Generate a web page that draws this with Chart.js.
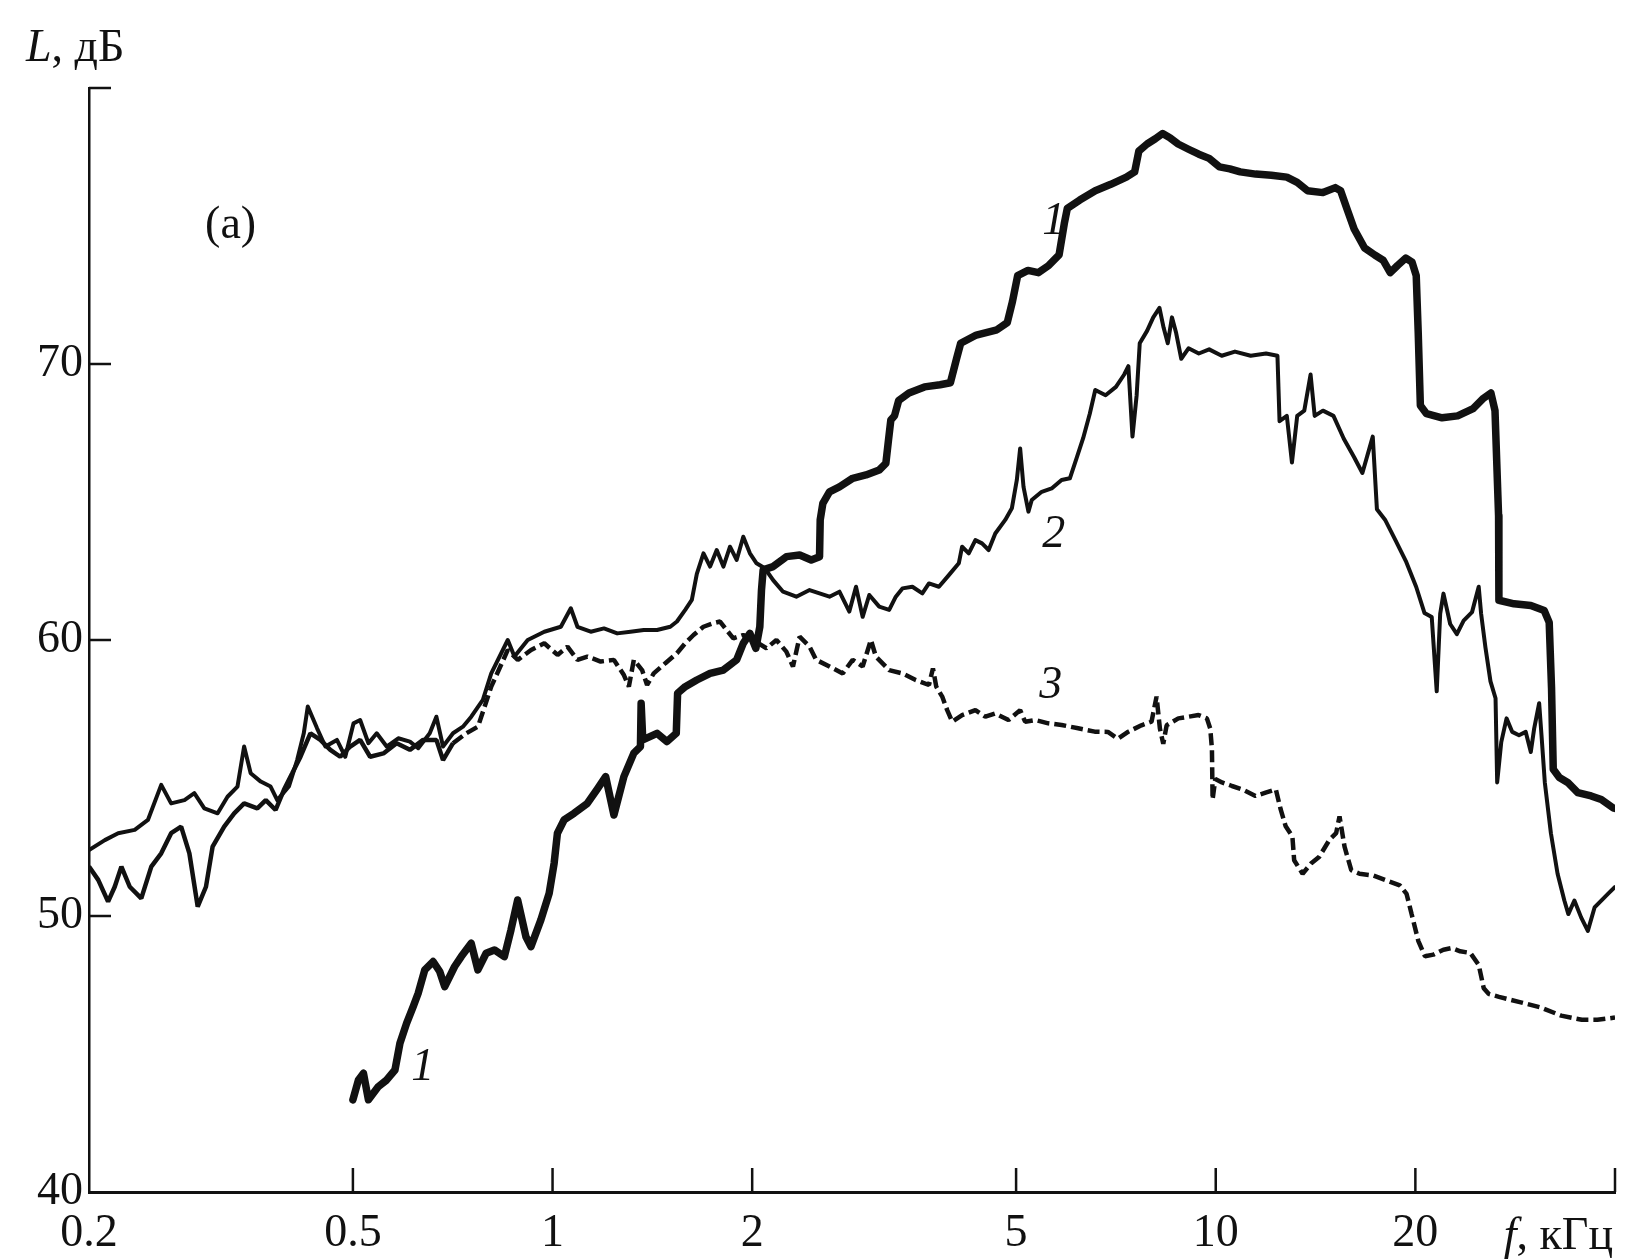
<!DOCTYPE html>
<html>
<head>
<meta charset="utf-8">
<script src="https://cdn.jsdelivr.net/npm/chart.js@4.4.1/dist/chart.umd.min.js"></script>
<style>
  html, body { margin: 0; padding: 0; background: #ffffff; }
  #wrap { width: 1629px; height: 1259px; position: relative; }
</style>
</head>
<body>
<div id="wrap"><canvas id="c" width="1629" height="1259"></canvas></div>
<script>
// Axis ticks
const xTicks = [0.2, 0.5, 1, 2, 5, 10, 20, 40];
const xTickLabels = ['0.2', '0.5', '1', '2', '5', '10', '20', ''];
const yTicks = [40, 50, 60, 70, 80];
const yTickLabels = ['40', '50', '60', '70', ''];

// Curve 1: frequency, kHz / level, dB
const freq1 = [0.500,0.5097,0.5187,0.5277,0.5462,0.5622,0.5786,0.5887,0.6024,0.6164,0.6272,0.6418,0.6605,0.6759,0.6877,0.7118,0.7284,0.7540,0.7716,0.7941,0.8173,0.8460,0.8657,0.8859,0.9117,0.9277,0.9603,0.9883,1.0055,1.0171,1.0408,1.0774,1.1282,1.168,1.2025,1.2375,1.2811,1.3261,1.3569,1.3601,1.3679,1.4374,1.4879,1.5366,1.5437,1.5851,1.6503,1.7280,1.8095,1.8948,1.9389,1.9841,2.0256,2.0538,2.0657,2.0776,2.1508,2.2521,2.3583,2.4553,2.5269,2.5328,2.5562,2.6157,2.7077,2.8352,2.9689,3.1087,3.1812,3.2107,3.2366,3.278,3.326,3.447,3.638,3.840,3.980,4.066,4.125,4.355,4.678,4.849,4.937,5.027,5.211,5.402,5.600,5.805,5.910,5.974,6.236,6.582,6.946,7.332,7.546,7.656,7.879,8.108,8.316,8.528,8.777,9.098,9.430,9.774,10.13,10.50,10.89,11.49,12.13,12.80,13.27,13.75,14.51,15.15,15.43,15.76,16.17,16.76,17.37,17.88,18.33,18.80,19.35,19.77,20.06,20.20,20.35,20.79,21.94,23.16,24.44,25.34,26.00,26.37,26.70,26.73,28.17,29.86,31.28,31.83,32.09,32.28,32.97,33.94,35.15,36.82,38.14,39.72,40.0];
const level1 = [43.34,44.06,44.30,43.34,43.82,44.06,44.42,45.39,46.11,46.72,47.20,48.05,48.35,47.99,47.44,48.17,48.53,49.01,48.05,48.65,48.77,48.53,49.50,50.58,49.25,48.89,49.86,50.82,51.91,53.00,53.48,53.72,54.08,54.60,55.05,53.66,55.05,55.90,56.14,57.71,56.38,56.62,56.32,56.62,58.07,58.31,58.55,58.79,58.91,59.28,59.88,60.24,59.70,60.48,61.81,62.54,62.66,63.02,63.08,62.90,63.02,64.35,64.95,65.37,65.55,65.86,65.98,66.16,66.40,67.25,67.97,68.12,68.68,68.95,69.17,69.25,69.32,70.19,70.75,71.05,71.24,71.50,72.26,73.20,73.39,73.31,73.57,73.95,75.08,75.64,75.94,76.28,76.51,76.77,76.96,77.71,77.97,78.16,78.35,78.20,77.97,77.78,77.60,77.45,77.14,77.07,76.96,76.88,76.84,76.77,76.58,76.28,76.21,76.39,76.28,75.64,74.89,74.21,73.95,73.76,73.31,73.57,73.84,73.69,73.20,71.13,68.50,68.20,68.05,68.12,68.38,68.76,68.95,68.31,64.50,61.44,61.31,61.25,61.07,60.64,58.26,55.32,55.02,54.84,54.47,54.35,54.22,53.92,53.90];

// Curve 2
const freq2 = [0.200,0.2113,0.2213,0.2344,0.2454,0.2570,0.2660,0.2786,0.2883,0.2985,0.3126,0.3235,0.3349,0.3427,0.3506,0.3631,0.3757,0.3845,0.4003,0.4120,0.4216,0.4275,0.4415,0.4544,0.4730,0.4869,0.5011,0.5127,0.5277,0.5431,0.5622,0.5853,0.6094,0.6273,0.6529,0.6681,0.6837,0.7078,0.7326,0.7541,0.7851,0.8083,0.8560,0.8761,0.9174,0.9718,1.0293,1.0655,1.0903,1.1417,1.1955,1.2519,1.3107,1.3727,1.4374,1.5051,1.5402,1.5851,1.6219,1.6503,1.6889,1.7281,1.7684,1.8097,1.8518,1.8950,1.9391,1.9843,2.0305,2.0898,2.1508,2.2264,2.3312,2.4411,2.5269,2.6157,2.7077,2.8024,2.8681,2.9349,3.0032,3.1087,3.2180,3.2930,3.3696,3.4881,3.6107,3.6948,3.8247,3.9590,4.0981,4.1456,4.2422,4.3410,4.4421,4.5455,4.6515,4.8149,4.9271,5.0130,5.0710,5.1307,5.2190,5.2795,5.4650,5.6571,5.8558,6.0268,6.1672,6.3108,6.458,6.582,6.822,7.072,7.278,7.384,7.490,7.599,7.681,7.879,8.050,8.226,8.344,8.466,8.590,8.715,8.872,9.098,9.430,9.774,10.21,10.69,11.29,11.91,12.39,12.48,12.80,13.03,13.27,13.60,13.90,14.10,14.51,15.05,15.60,16.17,16.64,17.25,17.50,18.00,18.67,19.35,20.06,20.64,21.17,21.54,21.80,22.05,22.57,23.10,23.65,24.35,24.92,25.13,25.51,25.96,26.42,26.57,26.95,27.45,28.00,28.66,29.34,29.86,30.21,30.74,30.99,31.35,32.02,32.77,33.55,34.02,34.74,35.56,36.40,37.26,38.14,39.03,40.0];
const level2 = [52.39,52.75,53.00,53.12,53.48,54.75,54.08,54.20,54.45,53.90,53.72,54.32,54.69,56.14,55.17,54.87,54.69,54.20,54.69,55.65,56.62,57.59,56.80,56.14,56.38,55.77,56.98,57.10,56.26,56.62,56.14,56.44,56.32,56.08,56.62,57.22,56.14,56.62,56.86,57.22,57.83,58.79,60.00,59.40,60.00,60.30,60.48,61.15,60.48,60.30,60.42,60.24,60.30,60.36,60.36,60.48,60.67,61.09,61.45,62.40,63.14,62.66,63.26,62.66,63.38,62.90,63.74,63.14,62.78,62.60,62.17,61.75,61.57,61.81,61.69,61.57,61.75,61.03,61.93,60.84,61.63,61.21,61.09,61.57,61.87,61.93,61.69,62.05,61.93,62.35,62.78,63.38,63.14,63.62,63.50,63.26,63.86,64.35,64.77,65.80,66.94,65.55,64.65,65.07,65.37,65.49,65.80,65.86,66.58,67.31,68.20,69.06,68.87,69.17,69.62,69.92,67.37,68.87,70.75,71.20,71.69,72.03,71.32,70.75,71.69,71.13,70.19,70.57,70.38,70.53,70.30,70.45,70.30,70.38,70.30,67.93,68.12,66.43,68.12,68.31,69.62,68.12,68.31,68.12,67.29,66.62,66.05,67.37,64.74,64.36,63.61,62.86,61.92,60.98,60.83,58.14,60.95,61.68,60.58,60.21,60.70,61.01,61.93,60.95,59.73,58.50,57.89,54.84,56.30,57.16,56.67,56.55,56.67,55.94,56.79,57.71,56.55,54.84,53.00,51.53,50.56,50.07,50.56,49.95,49.46,50.31,50.56,50.80,51.05];

// Curve 3 (dashed above the low-frequency overlap)
const freq3 = [0.200,0.2065,0.2137,0.2187,0.2238,0.2304,0.2398,0.2483,0.2570,0.2660,0.2754,0.2834,0.2917,0.3002,0.3072,0.3198,0.3311,0.3427,0.3588,0.3695,0.3823,0.3935,0.4050,0.4168,0.4314,0.4466,0.4623,0.4785,0.4954,0.5127,0.5308,0.5558,0.5820,0.6094,0.6381,0.6681,0.6837,0.7078,0.7412,0.7719,0.8083,0.8560,0.8863,0.9281,0.9718,1.0176,1.0533,1.0903,1.1287,1.1819,1.2375,1.2811,1.3035,1.3261,1.3647,1.3886,1.4209,1.4794,1.5402,1.5851,1.6314,1.6888,1.7480,1.7888,1.8305,1.8731,1.9389,2.0071,2.1016,2.1755,2.2519,2.3044,2.3581,2.4410,2.4978,2.6155,2.7388,2.8350,2.9347,3.0203,3.0730,3.2178,3.3695,3.5283,3.6946,3.7463,3.7895,3.8689,3.9364,4.0049,4.1456,4.3410,4.4936,4.6515,4.8707,5.0710,5.1594,5.3405,5.5922,5.8558,6.2029,6.5704,6.877,7.121,7.374,7.727,8.002,8.143,8.238,8.335,8.433,8.784,9.096,9.420,9.698,9.812,9.869,9.892,9.985,10.22,10.58,10.96,11.48,11.89,12.32,12.53,12.75,13.05,13.13,13.52,13.92,14.33,14.84,15.19,15.37,15.64,16.01,16.48,17.26,18.09,18.95,19.40,19.74,20.21,20.68,21.29,22.05,22.70,23.37,24.21,24.92,25.36,25.79,26.74,28.74,30.88,33.18,35.65,37.62,40.0];
const level3 = [51.79,51.31,50.52,51.06,51.79,51.06,50.64,51.79,52.27,53.00,53.24,52.27,50.34,51.06,52.51,53.24,53.72,54.08,53.90,54.20,53.84,54.57,55.17,55.77,56.62,56.38,56.02,55.77,56.14,56.38,55.77,55.89,56.26,56.02,56.38,56.38,55.65,56.26,56.62,56.86,58.31,59.64,59.28,59.64,59.88,59.46,59.76,59.28,59.40,59.22,59.28,58.73,58.31,59.28,58.91,58.37,58.79,59.16,59.52,59.88,60.18,60.48,60.61,60.67,60.36,60.06,60.18,60.00,59.70,60.00,59.58,59.04,60.12,59.76,59.28,59.04,58.79,59.28,59.04,60.00,59.40,58.91,58.79,58.55,58.37,58.97,58.31,57.95,57.46,57.04,57.28,57.46,57.22,57.34,57.10,57.46,57.04,57.10,56.98,56.92,56.80,56.68,56.67,56.42,56.67,56.91,57.04,57.95,56.79,56.24,56.91,57.16,57.22,57.28,57.16,56.79,56.06,54.22,54.96,54.84,54.71,54.59,54.35,54.47,54.59,53.86,53.25,52.88,52.02,51.53,51.90,52.15,52.76,53.00,53.61,52.51,51.66,51.53,51.47,51.29,51.11,50.80,50.07,49.09,48.54,48.60,48.78,48.84,48.72,48.66,48.23,47.38,47.18,47.07,46.88,46.69,46.39,46.24,46.24,46.32];
const solidBelow3 = 0.7; // curve 3 is drawn solid where it runs together with curve 2
const dash3 = [12, 5];

// Curve numbers and panel mark, anchored in data units
const curveLabels = [
  { text: '1', f: 5.70, L: 75.15 },
  { text: '2', f: 5.70, L: 63.80 },
  { text: '3', f: 5.64, L: 58.35 },
  { text: '1', f: 0.637, L: 44.51 }
];
const panelMark = { text: '(a)', f: 0.327, L: 75.0 };

const INK = '#111111';
const SERIF = '"Liberation Serif", "Times New Roman", serif';
const FONT_PX = 46;

const toPoints = (fs, ls) => fs.map((f, i) => ({ x: f, y: ls[i] }));

const decorations = {
  id: 'decorations',
  afterDraw(chart) {
    const { ctx, chartArea: a, scales: { x, y } } = chart;
    ctx.save();
    // inward tick marks
    ctx.strokeStyle = INK;
    ctx.lineWidth = 2.5;
    yTicks.forEach(v => {
      if (v === 40) return;
      const py = y.getPixelForValue(v);
      ctx.beginPath(); ctx.moveTo(a.left, py); ctx.lineTo(a.left + 22, py); ctx.stroke();
    });
    xTicks.forEach(v => {
      if (v === 0.2) return;
      const px = x.getPixelForValue(v);
      ctx.beginPath(); ctx.moveTo(px, a.bottom); ctx.lineTo(px, a.bottom - 24); ctx.stroke();
    });

    ctx.fillStyle = INK;
    ctx.textBaseline = 'alphabetic';

    // y-axis title: L, дБ
    const tyx = a.left - 63, tyy = a.top - 27;
    ctx.textAlign = 'left';
    ctx.font = `italic ${FONT_PX}px ${SERIF}`;
    ctx.fillText('L', tyx, tyy);
    const wL = ctx.measureText('L').width;
    ctx.font = `${FONT_PX}px ${SERIF}`;
    ctx.fillText(', дБ', tyx + wL, tyy);

    // x-axis title: f, кГц
    const txy = a.bottom + 57;
    ctx.font = `${FONT_PX}px ${SERIF}`;
    const rest = ', кГц';
    const wr = ctx.measureText(rest).width;
    ctx.textAlign = 'right';
    ctx.fillText(rest, a.right - 2, txy);
    ctx.font = `italic ${FONT_PX}px ${SERIF}`;
    ctx.fillText('f', a.right - 2 - wr, txy);

    // panel mark and curve numbers
    ctx.textAlign = 'center';
    ctx.textBaseline = 'middle';
    ctx.font = `${FONT_PX}px ${SERIF}`;
    ctx.fillText(panelMark.text, x.getPixelForValue(panelMark.f), y.getPixelForValue(panelMark.L));
    ctx.font = `italic ${FONT_PX}px ${SERIF}`;
    curveLabels.forEach(l => {
      ctx.fillText(l.text, x.getPixelForValue(l.f), y.getPixelForValue(l.L));
    });
    ctx.restore();
  }
};

new Chart(document.getElementById('c'), {
  type: 'line',
  data: {
    datasets: [
      {
        data: toPoints(freq3, level3), borderColor: INK, borderWidth: 4.5,
        borderDash: dash3, borderCapStyle: 'butt', borderJoinStyle: 'bevel',
        segment: { borderDash: ctx => (ctx.p0.parsed.x < solidBelow3 ? [] : dash3) }
      },
      { data: toPoints(freq2, level2), borderColor: INK, borderWidth: 4 },
      { data: toPoints(freq1, level1), borderColor: INK, borderWidth: 7.5 }
    ]
  },
  options: {
    responsive: false,
    animation: false,
    devicePixelRatio: 1,
    layout: { padding: { top: 88, right: 4, left: 0, bottom: 0 } },
    plugins: { legend: { display: false }, tooltip: { enabled: false } },
    elements: {
      point: { radius: 0 },
      line: { tension: 0, borderJoinStyle: 'round', borderCapStyle: 'round' }
    },
    scales: {
      x: {
        type: 'logarithmic', min: 0.2, max: 40,
        afterBuildTicks: s => { s.ticks = xTicks.map(v => ({ value: v })); },
        afterFit: s => { s.height = 67; },
        grid: { display: false, drawTicks: false },
        border: { display: true, color: INK, width: 3 },
        ticks: {
          autoSkip: false, maxRotation: 0, minRotation: 0, padding: 14, color: INK,
          font: { family: SERIF, size: FONT_PX },
          callback: (v, i) => xTickLabels[i]
        }
      },
      y: {
        type: 'linear', min: 40, max: 80,
        afterBuildTicks: s => { s.ticks = yTicks.map(v => ({ value: v })); },
        afterFit: s => { s.width = 89; },
        grid: { display: false, drawTicks: false },
        border: { display: true, color: INK, width: 2.5 },
        ticks: {
          padding: 6, color: INK,
          font: { family: SERIF, size: FONT_PX },
          callback: (v, i) => yTickLabels[i]
        }
      }
    }
  },
  plugins: [decorations]
});
</script>
</body>
</html>
